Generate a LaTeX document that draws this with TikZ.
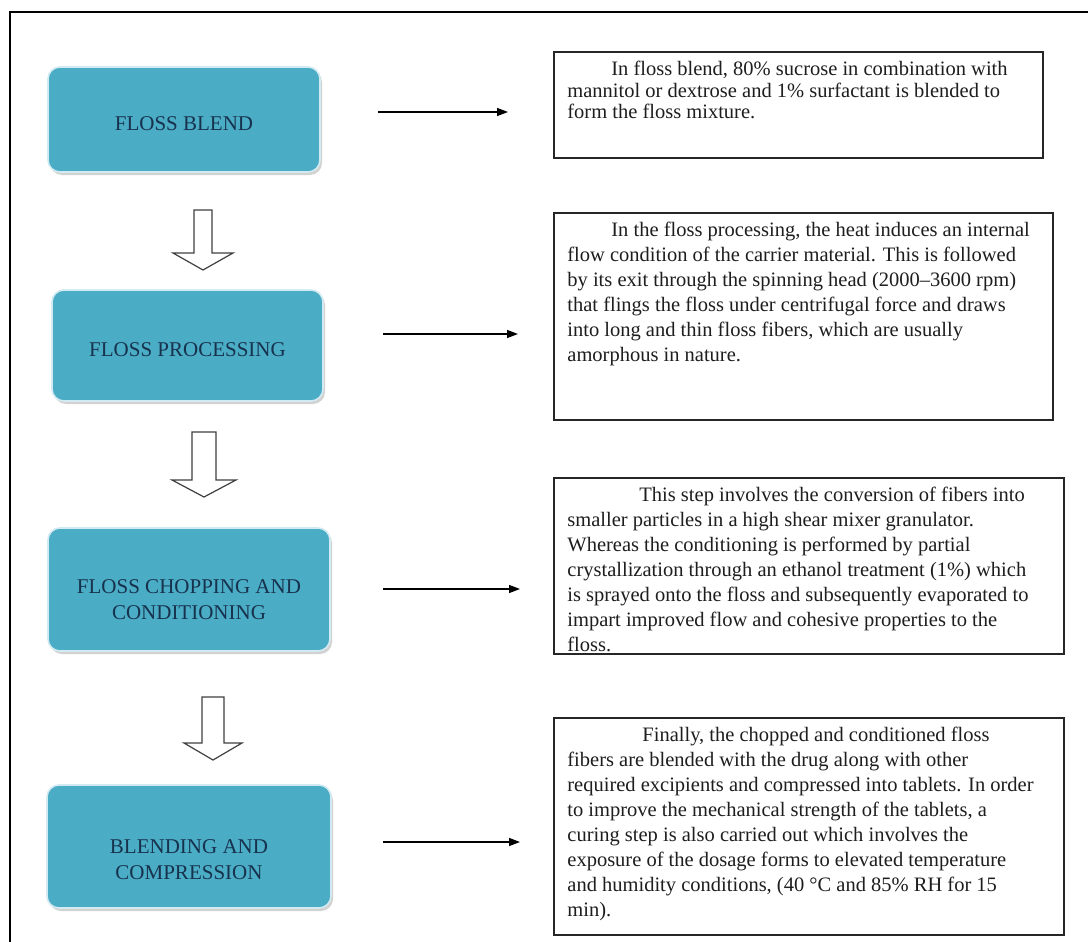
\documentclass[tikz,border=0pt]{standalone}
\usepackage{fontspec}
\setmainfont{Liberation Serif}
\usetikzlibrary{arrows.meta,shadows}
\definecolor{boxblue}{HTML}{4BACC6}
\definecolor{navy}{HTML}{17324D}
\definecolor{inkgray}{HTML}{1E1E1E}
\newcommand\blockarrow[6]{%
  \draw[hollowarrow] ({#1-#2},{#4}) -- ({#1+#2},{#4}) -- ({#1+#2},{#5}) -- ({#1+#3},{#5}) -- ({#1},{#6}) -- ({#1-#3},{#5}) -- ({#1-#2},{#5}) -- cycle;}
\begin{document}
\begin{tikzpicture}[x=1pt,y=-1pt,
  bluebox/.style={rectangle, rounded corners=12pt, fill=boxblue, draw=white!75!boxblue, line width=1.6pt,
    drop shadow={opacity=0.35, shadow xshift=2pt, shadow yshift=-3pt}, inner sep=0pt},
  bluetext/.style={text=navy, font=\fontsize{21}{26.5}\selectfont, align=center, inner sep=0pt},
  descbox/.style={rectangle, draw=black!85, line width=1.6pt, fill=white, inner sep=0pt},
  desctext/.style={text=inkgray, font=\fontsize{20.5}{25}\selectfont, align=left, inner sep=0pt, anchor=north west},
  thinarrow/.style={draw=black, line width=1.4pt, -{Triangle[length=11pt,width=8pt]}},
  hollowarrow/.style={draw=black!75, line width=1.2pt, fill=white, line join=miter}
]
\useasboundingbox (0,0) rectangle (1088,942);
\fill[white] (0,0) rectangle (1088,942);
% outer frame (cropped)
\draw[line width=2pt] (10,942) -- (10,12) -- (1088,12);

% blue step boxes
\node[bluebox, minimum width=272pt, minimum height=105pt] (b1) at (184,119.5) {};
\node[bluebox, minimum width=271pt, minimum height=111pt] (b2) at (187.5,345.5) {};
\node[bluebox, minimum width=282pt, minimum height=123pt] (b3) at (189,589.5) {};
\node[bluebox, minimum width=284pt, minimum height=123pt] (b4) at (189,846.5) {};
\node[bluetext] (b1t) at ([yshift=-4pt]b1.center) {FLOSS BLEND};
\node[bluetext] (b2t) at ([yshift=-4pt]b2.center) {FLOSS PROCESSING};
\node[bluetext] (b3t) at ([yshift=-10pt]b3.center) {FLOSS CHOPPING AND\\CONDITIONING};
\node[bluetext] (b4t) at ([yshift=-13pt]b4.center) {BLENDING AND\\COMPRESSION};

% hollow block arrows between steps
\blockarrow{203}{9}{30}{210}{253}{270}
\blockarrow{204}{12}{32}{432}{480}{497}
\blockarrow{213}{11}{29}{697}{743}{760}

% description boxes
\node[descbox, minimum width=489pt, minimum height=106pt] (t1) at (798.5,105) {};
\node[descbox, minimum width=499pt, minimum height=207pt] (t2) at (803.5,316.5) {};
\node[descbox, minimum width=510pt, minimum height=176pt] (t3) at (809,566) {};
\node[descbox, minimum width=510pt, minimum height=217pt] (t4) at (809,826.5) {};

\node[desctext, font=\fontsize{20.5}{21.5}\selectfont] (t1x) at ([xshift=14pt,yshift=-10pt]t1.north west) {\hspace*{44pt}In floss blend, 80\% sucrose in combination with\\mannitol or dextrose and 1\% surfactant is blended to\\form the floss mixture.};
\node[desctext] (t2x) at ([xshift=14pt,yshift=-10pt]t2.north west) {\hspace*{44pt}In the floss processing, the heat induces an internal\\flow condition of the carrier material. This is followed\\by its exit through the spinning head (2000–3600 rpm)\\that flings the floss under centrifugal force and draws\\into long and thin floss fibers, which are usually\\amorphous in nature.};
\node[desctext] (t3x) at ([xshift=14pt,yshift=-10pt]t3.north west) {\hspace*{72pt}This step involves the conversion of fibers into\\smaller particles in a high shear mixer granulator.\\Whereas the conditioning is performed by partial\\crystallization through an ethanol treatment (1\%) which\\is sprayed onto the floss and subsequently evaporated to\\impart improved flow and cohesive properties to the\\floss.};
\node[desctext] (t4x) at ([xshift=14pt,yshift=-10pt]t4.north west) {\hspace*{75pt}Finally, the chopped and conditioned floss\\fibers are blended with the drug along with other\\required excipients and compressed into tablets. In order\\to improve the mechanical strength of the tablets, a\\curing step is also carried out which involves the\\exposure of the dosage forms to elevated temperature\\and humidity conditions, (40 °C and 85\% RH for 15\\min).};

% thin arrows
\coordinate (a1s) at (378,112); \coordinate (a1e) at (508,112);
\coordinate (a2s) at (383,334); \coordinate (a2e) at (518,334);
\coordinate (a3s) at (383,589); \coordinate (a3e) at (520,589);
\coordinate (a4s) at (383,842); \coordinate (a4e) at (520,842);
\draw[thinarrow] (a1s) -- (a1e);
\draw[thinarrow] (a2s) -- (a2e);
\draw[thinarrow] (a3s) -- (a3e);
\draw[thinarrow] (a4s) -- (a4e);
\end{tikzpicture}
\end{document}
